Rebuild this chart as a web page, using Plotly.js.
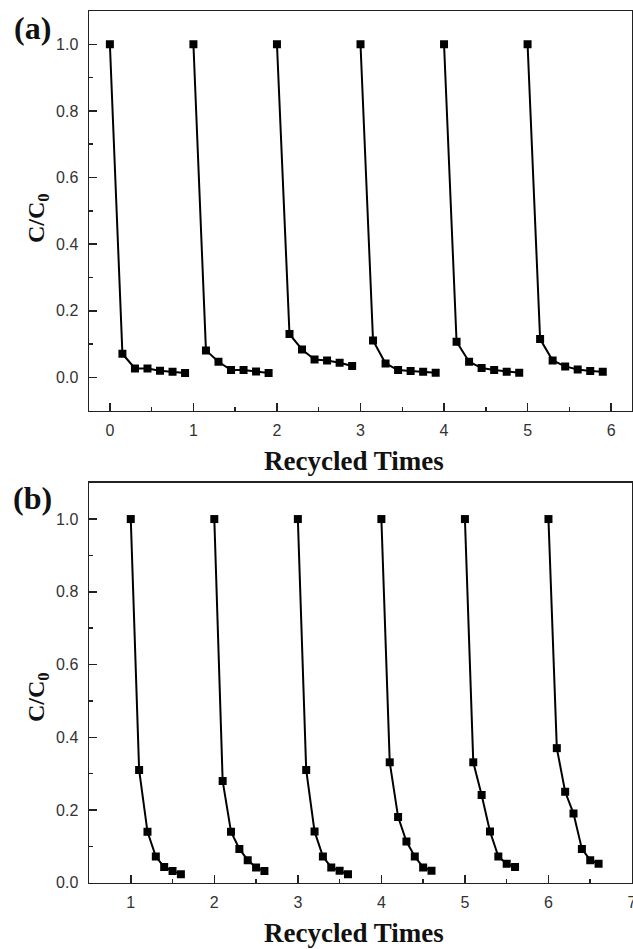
<!DOCTYPE html>
<html>
<head>
<meta charset="utf-8">
<script src="https://cdn.plot.ly/plotly-3.0.1.min.js"></script>
<style>html,body{margin:0;padding:0;background:#fff;}#chart{width:633px;height:949px;}</style>
</head>
<body>
<div id="chart"></div>
<script>
// Panel (a): cycle start positions, point offsets within a cycle, C/C0 values
const aCycleStarts = [0, 1, 2, 3, 4, 5];
const aOffsets = [0, 0.15, 0.3, 0.45, 0.6, 0.75, 0.9];
const aValues = [
  [1.0, 0.071, 0.027, 0.027, 0.020, 0.017, 0.013],
  [1.0, 0.081, 0.047, 0.022, 0.022, 0.018, 0.013],
  [1.0, 0.130, 0.084, 0.054, 0.051, 0.044, 0.034],
  [1.0, 0.111, 0.042, 0.022, 0.019, 0.017, 0.014],
  [1.0, 0.107, 0.047, 0.028, 0.022, 0.017, 0.014],
  [1.0, 0.115, 0.051, 0.033, 0.024, 0.019, 0.017]
];
// Panel (b)
const bCycleStarts = [1, 2, 3, 4, 5, 6];
const bOffsets = [0, 0.1, 0.2, 0.3, 0.4, 0.5, 0.6];
const bValues = [
  [1.0, 0.310, 0.140, 0.072, 0.043, 0.032, 0.023],
  [1.0, 0.280, 0.140, 0.093, 0.062, 0.042, 0.032],
  [1.0, 0.310, 0.141, 0.072, 0.042, 0.033, 0.023],
  [1.0, 0.331, 0.181, 0.113, 0.072, 0.042, 0.033],
  [1.0, 0.331, 0.241, 0.141, 0.072, 0.052, 0.043],
  [1.0, 0.370, 0.250, 0.190, 0.093, 0.062, 0.052]
];
const xTitle = 'Recycled Times';
const yTitle = 'C/C<sub>0</sub>';
const panelLabels = ['(a)', '(b)'];

const W = 633, H = 949;
const px = v => v / W;
const py = v => 1 - v / H;

const traces = [];
function addPanel(starts, offsets, values, xa, ya) {
  starts.forEach((s, i) => {
    traces.push({
      x: offsets.map(o => s + o),
      y: values[i],
      xaxis: xa, yaxis: ya,
      type: 'scatter', mode: 'lines+markers',
      line: {color: '#000', width: 2},
      marker: {symbol: 'square', size: 8, color: '#000'},
      showlegend: false, hoverinfo: 'skip'
    });
  });
}
addPanel(aCycleStarts, aOffsets, aValues, 'x', 'y');
addPanel(bCycleStarts, bOffsets, bValues, 'x2', 'y2');

const tickFont = {family: 'Liberation Sans, Arial, sans-serif', size: 16, color: '#333'};
const serif = 'Liberation Serif, Times New Roman, serif';

function xAxis(range, anchor) {
  return {
    domain: [px(89), px(632)], anchor: anchor, range: range,
    tick0: 0, dtick: 1, ticks: 'inside', ticklen: 8, tickwidth: 1.5, tickcolor: '#222',
    minor: {dtick: 0.5, ticks: 'inside', ticklen: 4, tickwidth: 1.5, tickcolor: '#222', showgrid: false},
    showline: true, linecolor: '#222', linewidth: 1.5, mirror: true,
    showgrid: false, zeroline: false, tickfont: tickFont, ticklabelstandoff: 5,
    ticklabeloverflow: 'allow'
  };
}
function yAxis(range, domain, anchor) {
  return {
    domain: domain, anchor: anchor, range: range,
    tick0: 0, dtick: 0.2, tickformat: '.1f', ticks: 'inside', ticklen: 8, tickwidth: 1.5, tickcolor: '#222',
    minor: {dtick: 0.1, ticks: 'inside', ticklen: 4, tickwidth: 1.5, tickcolor: '#222', showgrid: false},
    showline: true, linecolor: '#222', linewidth: 1.5, mirror: true,
    showgrid: false, zeroline: false, tickfont: tickFont, ticklabelstandoff: 6
  };
}

function ann(text, x, y, size, angle) {
  return {text: '<b>' + text + '</b>', xref: 'paper', yref: 'paper', x: px(x), y: py(y),
    xanchor: 'center', yanchor: 'middle', textangle: angle || 0, showarrow: false,
    font: {family: serif, size: size, color: '#111'}};
}

const layout = {
  width: W, height: H,
  margin: {l: 0, r: 0, t: 0, b: 0},
  paper_bgcolor: '#fff', plot_bgcolor: '#fff',
  xaxis: xAxis([-0.25, 6.25], 'y'),
  yaxis: yAxis([-0.1, 1.1], [py(410.7), py(11)], 'x'),
  xaxis2: xAxis([0.5, 7], 'y2'),
  yaxis2: yAxis([0, 1.1], [py(882.7), py(482.7)], 'x2'),
  annotations: [
    ann(panelLabels[0], 32, 28, 32),
    ann(panelLabels[1], 32, 498, 32),
    ann(yTitle, 38, 218, 24, -90),
    ann(yTitle, 38, 697, 24, -90),
    ann(xTitle, 354, 461, 27),
    ann(xTitle, 354, 933, 27)
  ]
};

Plotly.newPlot('chart', traces, layout, {displayModeBar: false, staticPlot: true});
</script>
</body>
</html>
